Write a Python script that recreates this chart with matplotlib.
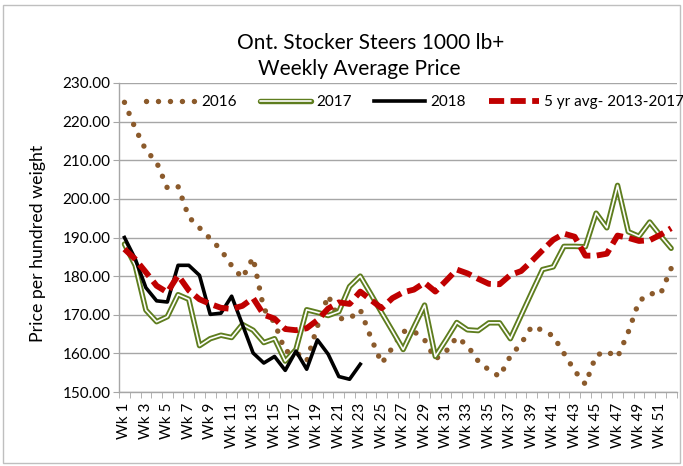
import numpy as np
import matplotlib
matplotlib.use("Agg")
import matplotlib.pyplot as plt
import matplotlib.patheffects as pe
from matplotlib.patches import Rectangle

plt.rcParams['font.family'] = ['Lato', 'DejaVu Sans']

weeks = list(range(1, 53))
week_labels = [f"Wk {w}" for w in weeks]

y2016 = [225, 218.3, 212.6, 209.5, 202.8, 203.2, 195.3, 192.5, 189.7, 186.8,
         182.7, 179.5, 184.8, 171.5, 168.0, 160.5, 160.3, 158.0, 167.0, 175.0,
         169.0, 169.0, 171.3, 164.0, 157.4, 161.5, 165.7, 165.7, 163.5, 158.5,
         160.5, 164.2, 162.0, 158.0, 155.7, 154.0, 159.3, 162.5, 167.0, 166.0,
         164.5, 160.0, 155.5, 152.0, 159.5, 160.5, 159.0, 165.5, 173.5, 175.5,
         175.3, 182.0]

y2017 = [188.3, 182.8, 171.2, 168.2, 169.5, 175.2, 174.0, 162.0, 163.8, 164.7,
         164.1, 167.5, 166.0, 162.8, 163.8, 158.0, 161.0, 171.3, 170.6, 169.8,
         170.8, 177.3, 180.0, 175.3, 170.5, 165.8, 161.0, 166.8, 172.5, 159.2,
         163.5, 168.0, 166.1, 165.9, 167.9, 167.9, 163.8, 169.8, 175.8, 181.7,
         182.4, 187.7, 187.7, 187.6, 196.3, 192.5, 203.5, 191.5, 190.3, 194.0,
         190.5, 187.2]

y2018 = [190.0, 184.5, 177.0, 173.6, 173.3, 182.8, 182.8, 180.2, 170.1, 170.4,
         174.8, 167.5, 160.1, 157.5, 159.2, 155.6, 160.6, 155.9, 163.5, 159.8,
         154.0, 153.3, 157.2]

y5yr = [187.0, 184.4, 181.0, 177.5, 175.8, 180.2, 176.3, 174.0, 172.8, 171.8,
        171.5, 172.3, 174.3, 170.0, 169.0, 166.3, 166.0, 166.5, 168.6, 171.6,
        173.2, 172.8, 176.0, 173.8, 171.7, 174.3, 175.8, 176.5, 178.3, 176.0,
        178.8, 181.7, 180.7, 179.3, 178.0, 177.9, 180.3, 181.3, 183.9, 186.7,
        189.4, 191.0, 190.2, 185.3, 185.3, 185.8, 190.5, 189.9, 189.1, 189.3,
        190.7, 192.4]

yticks = [150, 160, 170, 180, 190, 200, 210, 220, 230]

W, H = 683, 466
fig = plt.figure(figsize=(W / 100, H / 100), dpi=100)
L, R, T, B = 119.1, 676.5, 83, 392
ax = fig.add_axes([L / W, 1 - B / H, (R - L) / W, (B - T) / H])

grid_c = '#a6a6a6'
green = '#5E7D1E'
l16, = ax.plot(weeks, y2016, color='#8B5A2B', lw=3.9, ls=(0, (0.01, 2.2)),
               dash_capstyle='round', zorder=3)
l17, = ax.plot(weeks, y2017, color='white', lw=1.2, zorder=4,
               solid_capstyle='round',
               path_effects=[pe.Stroke(linewidth=3.9, foreground=green,
                                       capstyle='round'),
                             pe.Normal()])
l18, = ax.plot(weeks[:len(y2018)], y2018, color='black', lw=2.6, zorder=5)
l5, = ax.plot(weeks, y5yr, color='#C00000', lw=4.2, ls=(0, (2.6, 1.1)),
              dash_capstyle='butt', zorder=6)

ax.set_xlim(0.5, 52.5)
ax.set_ylim(150, 230)
ax.set_yticks(yticks)
ax.set_yticklabels([f"{v:.2f}" for v in yticks])
ax.yaxis.grid(True, color=grid_c, lw=1.0)
ax.set_axisbelow(True)

ax.set_xticks(weeks[::2])
ax.set_xticklabels(week_labels[::2], rotation=90, va='top', ha='center')
ax.set_xticks(np.arange(0.5, 53, 1), minor=True)
ax.tick_params(axis='x', which='major', length=0, pad=8, labelsize=11)
ax.tick_params(axis='x', which='minor', length=4, color=grid_c, direction='out')
ax.tick_params(axis='y', length=4, color=grid_c, pad=2, labelsize=11)

for s in ['top', 'right']:
    ax.spines[s].set_visible(False)
for s in ['left', 'bottom']:
    ax.spines[s].set_color(grid_c)
    ax.spines[s].set_linewidth(1.0)

fig.text(371 / W, 1 - 49 / H, 'Ont. Stocker Steers 1000 lb+', ha='center',
         va='baseline', fontsize=15)
fig.text(359 / W, 1 - 75 / H, 'Weekly Average Price', ha='center',
         va='baseline', fontsize=15)
fig.text(38 / W, 1 - 243 / H, 'Price per hundred weight', rotation=90,
         ha='center', va='center', fontsize=12.8)

fig.legend([l16, l17, l18, l5],
           ['2016', '2017', '2018', '5 yr avg- 2013-2017'],
           loc='center left', bbox_to_anchor=(146 / W, 1 - 102 / H), ncol=4,
           frameon=False, fontsize=11, handlelength=3.3, handletextpad=0.35,
           columnspacing=1.5, borderpad=0, borderaxespad=0)

fig.add_artist(Rectangle((3 / W, 3 / H), (W - 6) / W, (H - 8) / H,
                         transform=fig.transFigure, fill=False,
                         edgecolor='#bfbfbf', lw=1.0))

fig.savefig('out.png', dpi=100)
